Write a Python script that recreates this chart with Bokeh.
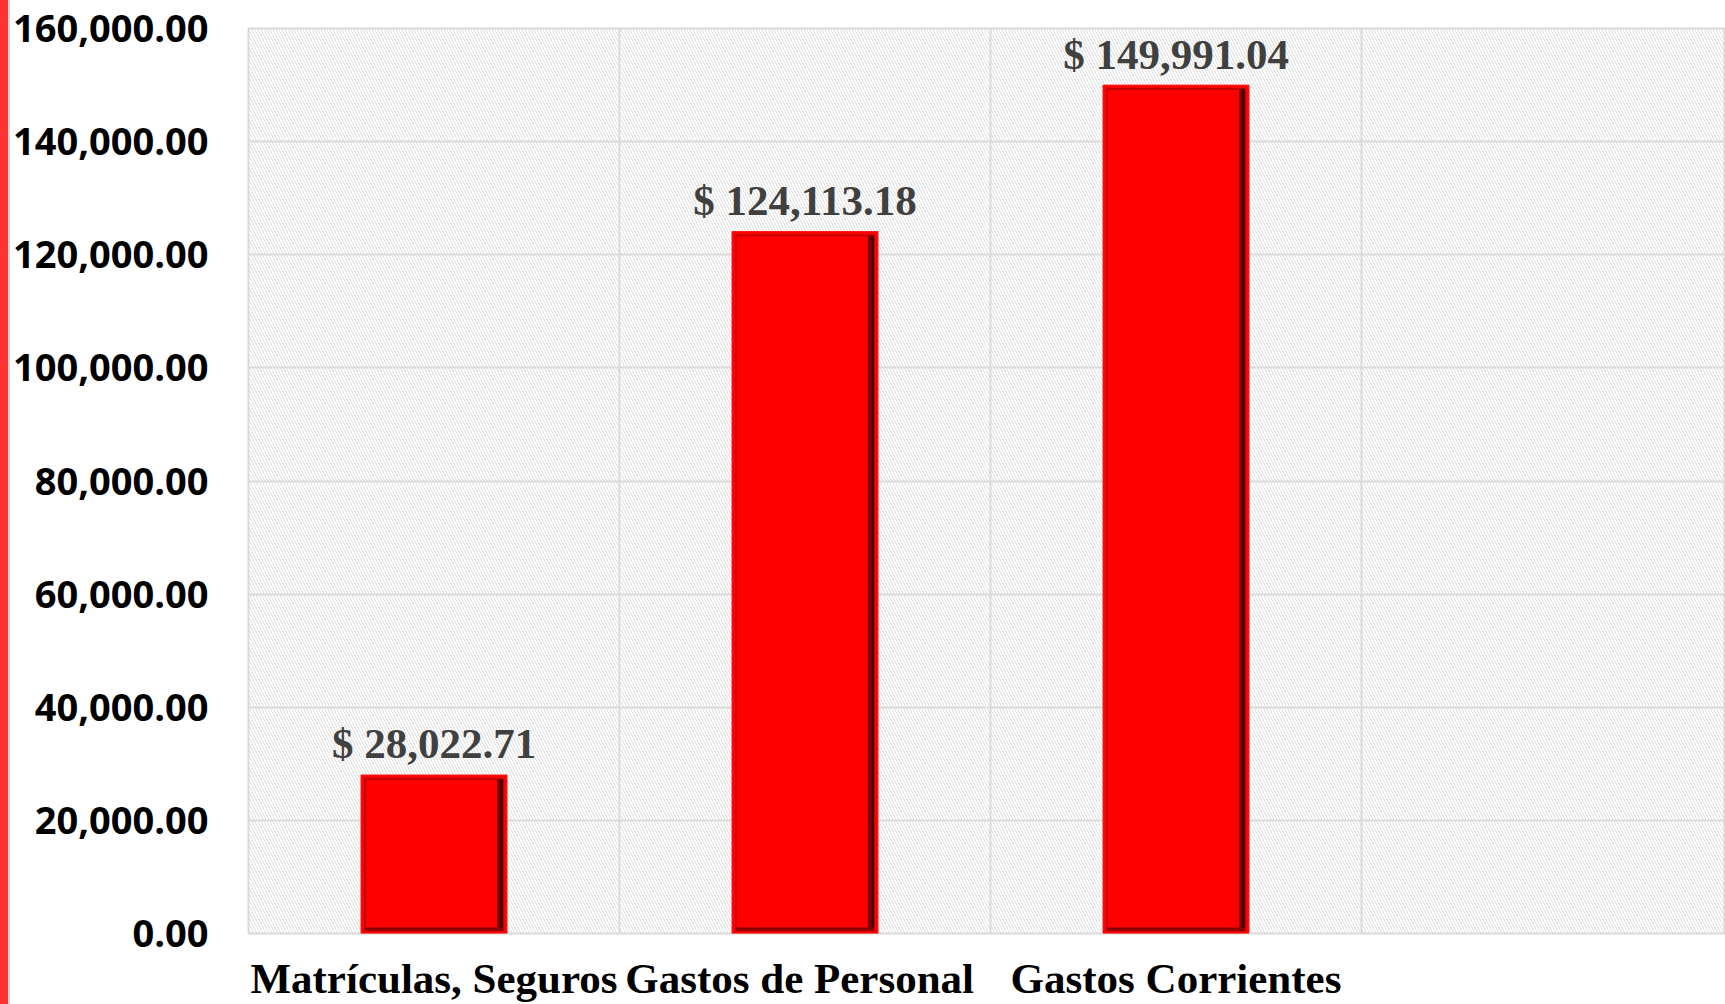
from bokeh.plotting import figure
from bokeh.models import (ColumnDataSource, FixedTicker, Range1d, NumeralTickFormatter,
                          BoxAnnotation, Div)
from bokeh.layouts import row
from bokeh.embed import file_html
from bokeh.resources import INLINE
from bokeh.core.properties import value

# ---- data ----
categories = ["Matrículas, Seguros", "Gastos  de Personal", "Gastos Corrientes"]
amounts = [28022.71, 124113.18, 149991.04]
y_ticks = [0, 20000, 40000, 60000, 80000, 100000, 120000, 140000, 160000]

xs = [i + 0.5 for i in range(len(categories))]
labels = [f"$ {v:,.2f}" for v in amounts]

# ---- geometry / style ----
STRIP_W = 10
FIG_W, FIG_H = 1725 - STRIP_W, 1004
FRAME_LEFT = 248 - STRIP_W
FRAME_TOP, FRAME_BOTTOM = 28, 933
PX_X = 1.0 / 371.0                                  # one pixel in x data units
PX_Y = 160000.0 / (FRAME_BOTTOM - FRAME_TOP)        # one pixel in y data units
BAR_W = 146 * PX_X

src = ColumnDataSource(dict(x=xs, top=amounts, label=labels))

def bevel(l_off, r_off, b_off, t_off):
    """rectangles relative to each bar (offsets in pixels)"""
    lefts = [x - BAR_W / 2 + l_off * PX_X for x in xs]
    rights = [x + BAR_W / 2 - r_off * PX_X for x in xs]
    tops = [v - t_off * PX_Y for v in amounts]
    bottoms = [b_off * PX_Y for _ in amounts]
    return dict(left=lefts, right=rights, top=tops, bottom=bottoms)

p = figure(width=FIG_W, height=FIG_H, output_backend="svg", toolbar_location=None,
           x_range=Range1d(0, (FIG_W - FRAME_LEFT) * PX_X), y_range=Range1d(0, 160000),
           min_border_left=FRAME_LEFT, min_border_top=FRAME_TOP, min_border_right=0,
           min_border_bottom=FIG_H - FRAME_BOTTOM)

p.background_fill_color = "white"
p.border_fill_color = "white"
p.outline_line_color = "#d9d9d9"
p.outline_line_width = 2

# hatched plot background
bg = BoxAnnotation(fill_alpha=0, line_alpha=0, hatch_pattern="\\",
                   hatch_color="#dedede", hatch_scale=6, hatch_weight=1,
                   level="underlay")
p.add_layout(bg)

# grid
p.xgrid.ticker = FixedTicker(ticks=[0, 1, 2, 3])
p.ygrid.ticker = FixedTicker(ticks=y_ticks)
for g in (p.xgrid, p.ygrid):
    g.grid_line_color = "#d9d9d9"
    g.grid_line_width = 2

# bars
p.vbar(x="x", top="top", bottom=0, width=BAR_W, source=src,
       fill_color="#ff0000", line_color="#ff1a1a", line_width=1)
# bevel shading
p.quad(**bevel(4, 4, 3, 4), fill_alpha=0, line_color="#b30000", line_width=1.5)
p.quad(**bevel(BAR_W / PX_X - 10, 4, 3, 4), fill_color="#7a0000", line_alpha=0)
p.quad(**bevel(BAR_W / PX_X - 7, 4, 3, 4), fill_color="#4a0000", line_alpha=0)
bot = bevel(4, 4, 3, 0)
bot["bottom"] = [3 * PX_Y for _ in amounts]
bot["top"] = [6 * PX_Y for _ in amounts]
p.quad(**bot, fill_color="#8a0000", line_alpha=0)

# value labels
p.text(x="x", y="top", text="label", source=src, text_align="center",
       text_baseline="alphabetic", y_offset=-31,
       text_font=value("Liberation Serif"), text_font_style="bold",
       text_font_size="43px", text_color="#404040")

# axes
xa = p.xaxis[0]
xa.ticker = FixedTicker(ticks=xs)
xa.major_label_overrides = {x: c for x, c in zip(xs, categories)}
xa.major_label_text_font = "Liberation Serif"
xa.major_label_text_font_style = "bold"
xa.major_label_text_font_size = "43px"
xa.major_label_text_color = "black"
xa.major_label_standoff = 15
xa.axis_line_color = None
xa.major_tick_line_color = None
xa.minor_tick_line_color = None

ya = p.yaxis[0]
ya.ticker = FixedTicker(ticks=y_ticks)
ya.formatter = NumeralTickFormatter(format="0,0.00")
ya.major_label_text_font = "Open Sans"
ya.major_label_text_font_style = "bold"
ya.major_label_text_font_size = "38px"
ya.major_label_text_color = "black"
ya.major_label_standoff = 34
ya.axis_line_color = None
ya.major_tick_line_color = None
ya.minor_tick_line_color = None

# red decorative strip at the page's left edge
strip = Div(text="", width=STRIP_W, height=FIG_H, margin=0,
            styles={"background": "linear-gradient(to right, #ff3333 0px, #ff3333 8px, #d6d6d6 8px, #d6d6d6 10px)"})

layout = row(strip, p, spacing=0)
open("out.html", "w").write(file_html(layout, INLINE))
